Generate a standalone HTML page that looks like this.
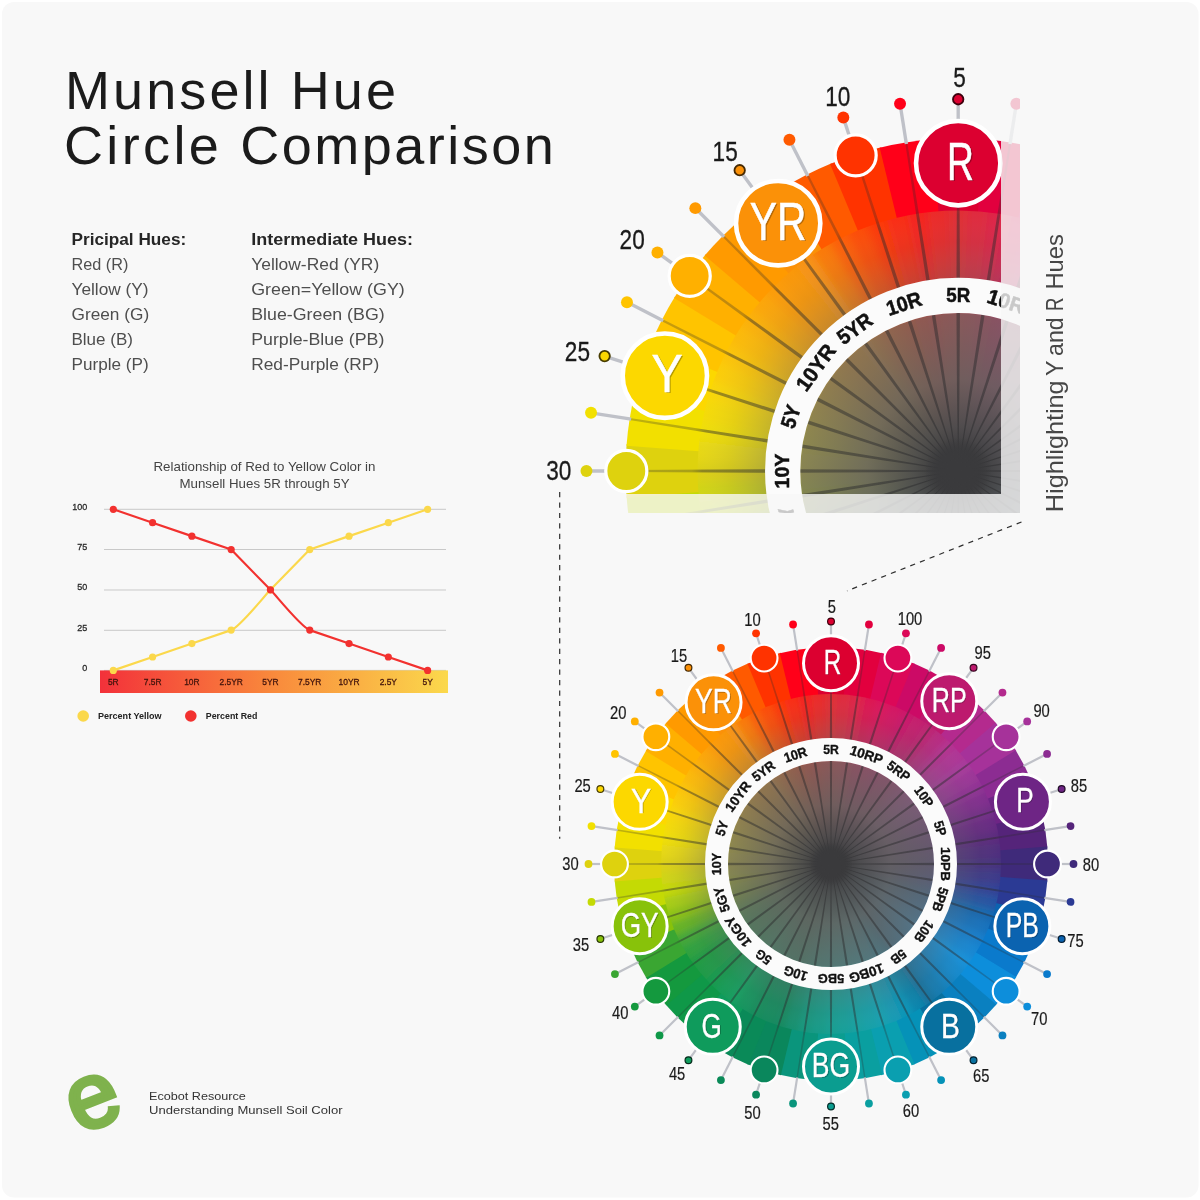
<!DOCTYPE html>
<html lang="en"><head><meta charset="utf-8"><title>Munsell Hue Circle Comparison</title>
<style>
html,body{margin:0;padding:0;background:#fff;}
body{width:1200px;height:1200px;overflow:hidden;font-family:"Liberation Sans",sans-serif;}
svg{display:block}
text{font-family:"Liberation Sans",sans-serif;}
.rl{font-size:13.6px;font-weight:bold;fill:#111;text-anchor:middle;stroke:#111;stroke-width:.35px;}
.bl{font-size:35px;fill:#fff;text-anchor:middle;stroke:#fff;stroke-width:.35px;}
.bs{font-size:35px;fill:#000;fill-opacity:.28;text-anchor:middle;}
.nm{font-size:18.2px;fill:#1a1a1a;text-anchor:middle;stroke:#1a1a1a;stroke-width:.2px;}
.yl{font-size:9.8px;fill:#2a2a2a;stroke:#2a2a2a;stroke-width:.3px;text-anchor:end;}
.xl{font-size:9.8px;fill:#43140c;stroke:#43140c;stroke-width:.3px;text-anchor:middle;}
.lg{font-size:9.6px;font-weight:bold;fill:#222;}
.ct{font-size:13px;fill:#444;text-anchor:middle;}
.lh{font-size:17.2px;font-weight:bold;fill:#262626;}
.li{font-size:17.2px;fill:#4e4e4e;}
.tt{font-size:54px;fill:#1b1b1b;}
.ft{font-size:11.6px;fill:#333;}
.vt{font-size:24.5px;fill:#464646;}
</style></head><body>
<svg width="1200" height="1200" viewBox="0 0 1200 1200">
<defs>
<radialGradient id="gv" gradientUnits="userSpaceOnUse" cx="0" cy="0" r="170">
<stop offset="0" stop-color="#3c3c3e" stop-opacity="1"/>
<stop offset="0.08" stop-color="#3c3c3e" stop-opacity="1"/>
<stop offset="0.17" stop-color="#4d4d4e" stop-opacity="0.98"/>
<stop offset="0.35" stop-color="#656361" stop-opacity="0.91"/>
<stop offset="0.6" stop-color="#6b6a69" stop-opacity="0.75"/>
<stop offset="0.62" stop-color="#707070" stop-opacity="0.5"/>
<stop offset="0.74" stop-color="#707070" stop-opacity="0.37"/>
<stop offset="0.88" stop-color="#888480" stop-opacity="0.15"/>
<stop offset="1" stop-color="#c8c0b8" stop-opacity="0.05"/>
</radialGradient>
<radialGradient id="gc" gradientUnits="userSpaceOnUse" cx="0" cy="0" r="22">
<stop offset="0" stop-color="#3a3a3c" stop-opacity="1"/>
<stop offset="0.6" stop-color="#3a3a3c" stop-opacity="0.9"/>
<stop offset="1" stop-color="#3a3a3c" stop-opacity="0"/>
</radialGradient>
<linearGradient id="gn" gradientUnits="userSpaceOnUse" x1="0" y1="0" x2="0" y2="-217">
<stop offset="0" stop-color="#2a2a2c" stop-opacity="0.5"/><stop offset="0.77" stop-color="#2a2a2c" stop-opacity="0.45"/><stop offset="0.8" stop-color="#2a2a2c" stop-opacity="0.3"/><stop offset="1" stop-color="#2a2a2c" stop-opacity="0.26"/>
</linearGradient>
<linearGradient id="gb" x1="0" y1="0" x2="1" y2="0">
<stop offset="0" stop-color="#f3313a"/><stop offset="0.5" stop-color="#f98a3c"/><stop offset="1" stop-color="#fbd94c"/>
</linearGradient>
<clipPath id="cin"><circle r="170"/></clipPath>
<filter id="blr" x="-10%" y="-10%" width="120%" height="120%"><feGaussianBlur stdDeviation="3"/></filter>
<clipPath id="clipA"><rect x="540" y="40" width="461" height="454"/></clipPath>
<clipPath id="clipB"><path d="M1001 40H1020V513H540V494H1001Z"/></clipPath>
<g id="wheel">
<path d="M0 0L-17.59 -216.29A217 217 0 0 1 17.59 -216.29Z" fill="#dc0030"/>
<path d="M0 0L16.46 -216.37A217 217 0 0 1 51.21 -210.87Z" fill="#e2003e"/>
<path d="M0 0L50.11 -211.14A217 217 0 0 1 83.57 -200.26Z" fill="#dc0858"/>
<path d="M0 0L82.52 -200.7A217 217 0 0 1 113.87 -184.73Z" fill="#cc0a66"/>
<path d="M0 0L112.9 -185.32A217 217 0 0 1 141.36 -164.64Z" fill="#bd1a6e"/>
<path d="M0 0L140.5 -165.38A217 217 0 0 1 165.38 -140.5Z" fill="#b42a8e"/>
<path d="M0 0L164.64 -141.36A217 217 0 0 1 185.32 -112.9Z" fill="#a6329a"/>
<path d="M0 0L184.73 -113.87A217 217 0 0 1 200.7 -82.52Z" fill="#8c2c92"/>
<path d="M0 0L200.26 -83.57A217 217 0 0 1 211.14 -50.11Z" fill="#6e2585"/>
<path d="M0 0L210.87 -51.21A217 217 0 0 1 216.37 -16.46Z" fill="#55247a"/>
<path d="M0 0L216.29 -17.59A217 217 0 0 1 216.29 17.59Z" fill="#3f2a7a"/>
<path d="M0 0L216.37 16.46A217 217 0 0 1 210.87 51.21Z" fill="#2b3a94"/>
<path d="M0 0L211.14 50.11A217 217 0 0 1 200.26 83.57Z" fill="#0b63b0"/>
<path d="M0 0L200.7 82.52A217 217 0 0 1 184.73 113.87Z" fill="#0a7acc"/>
<path d="M0 0L185.32 112.9A217 217 0 0 1 164.64 141.36Z" fill="#0d8edb"/>
<path d="M0 0L165.38 140.5A217 217 0 0 1 140.5 165.38Z" fill="#0a80c0"/>
<path d="M0 0L141.36 164.64A217 217 0 0 1 112.9 185.32Z" fill="#08709f"/>
<path d="M0 0L113.87 184.73A217 217 0 0 1 82.52 200.7Z" fill="#0592b8"/>
<path d="M0 0L83.57 200.26A217 217 0 0 1 50.11 211.14Z" fill="#0a9fb0"/>
<path d="M0 0L51.21 210.87A217 217 0 0 1 16.46 216.37Z" fill="#0a9fa0"/>
<path d="M0 0L17.59 216.29A217 217 0 0 1 -17.59 216.29Z" fill="#0b9d90"/>
<path d="M0 0L-16.46 216.37A217 217 0 0 1 -51.21 210.87Z" fill="#0a957c"/>
<path d="M0 0L-50.11 211.14A217 217 0 0 1 -83.57 200.26Z" fill="#0a875c"/>
<path d="M0 0L-82.52 200.7A217 217 0 0 1 -113.87 184.73Z" fill="#0a8a58"/>
<path d="M0 0L-112.9 185.32A217 217 0 0 1 -141.36 164.64Z" fill="#0f9b5c"/>
<path d="M0 0L-140.5 165.38A217 217 0 0 1 -165.38 140.5Z" fill="#0f9848"/>
<path d="M0 0L-164.64 141.36A217 217 0 0 1 -185.32 112.9Z" fill="#14993e"/>
<path d="M0 0L-184.73 113.87A217 217 0 0 1 -200.7 82.52Z" fill="#3aa632"/>
<path d="M0 0L-200.26 83.57A217 217 0 0 1 -211.14 50.11Z" fill="#88c20a"/>
<path d="M0 0L-210.87 51.21A217 217 0 0 1 -216.37 16.46Z" fill="#c4da04"/>
<path d="M0 0L-216.29 17.59A217 217 0 0 1 -216.29 -17.59Z" fill="#ded20e"/>
<path d="M0 0L-216.37 -16.46A217 217 0 0 1 -210.87 -51.21Z" fill="#f2e000"/>
<path d="M0 0L-211.14 -50.11A217 217 0 0 1 -200.26 -83.57Z" fill="#fcd800"/>
<path d="M0 0L-200.7 -82.52A217 217 0 0 1 -184.73 -113.87Z" fill="#ffc400"/>
<path d="M0 0L-185.32 -112.9A217 217 0 0 1 -164.64 -141.36Z" fill="#ffb000"/>
<path d="M0 0L-165.38 -140.5A217 217 0 0 1 -140.5 -165.38Z" fill="#ff9a00"/>
<path d="M0 0L-141.36 -164.64A217 217 0 0 1 -112.9 -185.32Z" fill="#fb9108"/>
<path d="M0 0L-113.87 -184.73A217 217 0 0 1 -82.52 -200.7Z" fill="#ff5a00"/>
<path d="M0 0L-83.57 -200.26A217 217 0 0 1 -50.11 -211.14Z" fill="#ff3300"/>
<path d="M0 0L-51.21 -210.87A217 217 0 0 1 -16.46 -216.37Z" fill="#ff0019"/>
<g clip-path="url(#cin)"><g filter="url(#blr)">
<path d="M0 0L-7.46 -181.85A170 170 0 0 1 7.46 -181.85Z" fill="#e2262f"/>
<path d="M0 0L6.83 -181.87A170 170 0 0 1 21.71 -180.7Z" fill="#e12038"/>
<path d="M0 0L21.08 -180.78A170 170 0 0 1 35.82 -178.44Z" fill="#e01a42"/>
<path d="M0 0L35.19 -178.56A170 170 0 0 1 49.71 -175.08Z" fill="#de114d"/>
<path d="M0 0L49.1 -175.25A170 170 0 0 1 63.29 -170.64Z" fill="#dc0858"/>
<path d="M0 0L62.7 -170.86A170 170 0 0 1 76.48 -165.15Z" fill="#d4095f"/>
<path d="M0 0L75.91 -165.41A170 170 0 0 1 89.21 -158.64Z" fill="#cc0a66"/>
<path d="M0 0L88.65 -158.95A170 170 0 0 1 101.38 -151.15Z" fill="#c4126a"/>
<path d="M0 0L100.85 -151.5A170 170 0 0 1 112.92 -142.73Z" fill="#bd1a6e"/>
<path d="M0 0L112.43 -143.12A170 170 0 0 1 123.77 -133.43Z" fill="#b8227e"/>
<path d="M0 0L123.31 -133.86A170 170 0 0 1 133.86 -123.31Z" fill="#b42a8e"/>
<path d="M0 0L133.43 -123.77A170 170 0 0 1 143.12 -112.43Z" fill="#ad2e94"/>
<path d="M0 0L142.73 -112.92A170 170 0 0 1 151.5 -100.85Z" fill="#a6329a"/>
<path d="M0 0L151.15 -101.38A170 170 0 0 1 158.95 -88.65Z" fill="#992f96"/>
<path d="M0 0L158.64 -89.21A170 170 0 0 1 165.41 -75.91Z" fill="#8c2c92"/>
<path d="M0 0L165.15 -76.48A170 170 0 0 1 170.86 -62.7Z" fill="#7d288c"/>
<path d="M0 0L170.64 -63.29A170 170 0 0 1 175.25 -49.1Z" fill="#6e2585"/>
<path d="M0 0L175.08 -49.71A170 170 0 0 1 178.56 -35.19Z" fill="#622480"/>
<path d="M0 0L178.44 -35.82A170 170 0 0 1 180.78 -21.08Z" fill="#55247a"/>
<path d="M0 0L180.7 -21.71A170 170 0 0 1 181.87 -6.83Z" fill="#4a277a"/>
<path d="M0 0L181.85 -7.46A170 170 0 0 1 181.85 7.46Z" fill="#3f2a7a"/>
<path d="M0 0L181.87 6.83A170 170 0 0 1 180.7 21.71Z" fill="#353287"/>
<path d="M0 0L180.78 21.08A170 170 0 0 1 178.44 35.82Z" fill="#2b3a94"/>
<path d="M0 0L178.56 35.19A170 170 0 0 1 175.08 49.71Z" fill="#1b4ea2"/>
<path d="M0 0L175.25 49.1A170 170 0 0 1 170.64 63.29Z" fill="#0b63b0"/>
<path d="M0 0L170.86 62.7A170 170 0 0 1 165.15 76.48Z" fill="#0a6ebe"/>
<path d="M0 0L165.41 75.91A170 170 0 0 1 158.64 89.21Z" fill="#0a7acc"/>
<path d="M0 0L158.95 88.65A170 170 0 0 1 151.15 101.38Z" fill="#0c84d4"/>
<path d="M0 0L151.5 100.85A170 170 0 0 1 142.73 112.92Z" fill="#0d8edb"/>
<path d="M0 0L143.12 112.43A170 170 0 0 1 133.43 123.77Z" fill="#0c87ce"/>
<path d="M0 0L133.86 123.31A170 170 0 0 1 123.31 133.86Z" fill="#0a80c0"/>
<path d="M0 0L123.77 133.43A170 170 0 0 1 112.43 143.12Z" fill="#0978b0"/>
<path d="M0 0L112.92 142.73A170 170 0 0 1 100.85 151.5Z" fill="#08709f"/>
<path d="M0 0L101.38 151.15A170 170 0 0 1 88.65 158.95Z" fill="#0681ac"/>
<path d="M0 0L89.21 158.64A170 170 0 0 1 75.91 165.41Z" fill="#0592b8"/>
<path d="M0 0L76.48 165.15A170 170 0 0 1 62.7 170.86Z" fill="#0898b4"/>
<path d="M0 0L63.29 170.64A170 170 0 0 1 49.1 175.25Z" fill="#0a9fb0"/>
<path d="M0 0L49.71 175.08A170 170 0 0 1 35.19 178.56Z" fill="#0a9fa8"/>
<path d="M0 0L35.82 178.44A170 170 0 0 1 21.08 180.78Z" fill="#0a9fa0"/>
<path d="M0 0L21.71 180.7A170 170 0 0 1 6.83 181.87Z" fill="#0a9e98"/>
<path d="M0 0L7.46 181.85A170 170 0 0 1 -7.46 181.85Z" fill="#0b9d90"/>
<path d="M0 0L-6.83 181.87A170 170 0 0 1 -21.71 180.7Z" fill="#0a9986"/>
<path d="M0 0L-21.08 180.78A170 170 0 0 1 -35.82 178.44Z" fill="#0a957c"/>
<path d="M0 0L-35.19 178.56A170 170 0 0 1 -49.71 175.08Z" fill="#0a8e6c"/>
<path d="M0 0L-49.1 175.25A170 170 0 0 1 -63.29 170.64Z" fill="#0a875c"/>
<path d="M0 0L-62.7 170.86A170 170 0 0 1 -76.48 165.15Z" fill="#0a885a"/>
<path d="M0 0L-75.91 165.41A170 170 0 0 1 -89.21 158.64Z" fill="#0a8a58"/>
<path d="M0 0L-88.65 158.95A170 170 0 0 1 -101.38 151.15Z" fill="#0c925a"/>
<path d="M0 0L-100.85 151.5A170 170 0 0 1 -112.92 142.73Z" fill="#0f9b5c"/>
<path d="M0 0L-112.43 143.12A170 170 0 0 1 -123.77 133.43Z" fill="#0f9a52"/>
<path d="M0 0L-123.31 133.86A170 170 0 0 1 -133.86 123.31Z" fill="#0f9848"/>
<path d="M0 0L-133.43 123.77A170 170 0 0 1 -143.12 112.43Z" fill="#129843"/>
<path d="M0 0L-142.73 112.92A170 170 0 0 1 -151.5 100.85Z" fill="#14993e"/>
<path d="M0 0L-151.15 101.38A170 170 0 0 1 -158.95 88.65Z" fill="#27a038"/>
<path d="M0 0L-158.64 89.21A170 170 0 0 1 -165.41 75.91Z" fill="#3aa632"/>
<path d="M0 0L-165.15 76.48A170 170 0 0 1 -170.86 62.7Z" fill="#61b41e"/>
<path d="M0 0L-170.64 63.29A170 170 0 0 1 -175.25 49.1Z" fill="#88c20a"/>
<path d="M0 0L-175.08 49.71A170 170 0 0 1 -178.56 35.19Z" fill="#a6ce07"/>
<path d="M0 0L-178.44 35.82A170 170 0 0 1 -180.78 21.08Z" fill="#c4da04"/>
<path d="M0 0L-180.7 21.71A170 170 0 0 1 -181.87 6.83Z" fill="#d1d609"/>
<path d="M0 0L-181.85 7.46A170 170 0 0 1 -181.85 -7.46Z" fill="#ded20e"/>
<path d="M0 0L-181.87 -6.83A170 170 0 0 1 -180.7 -21.71Z" fill="#e8d907"/>
<path d="M0 0L-180.78 -21.08A170 170 0 0 1 -178.44 -35.82Z" fill="#f2e000"/>
<path d="M0 0L-178.56 -35.19A170 170 0 0 1 -175.08 -49.71Z" fill="#f7dc00"/>
<path d="M0 0L-175.25 -49.1A170 170 0 0 1 -170.64 -63.29Z" fill="#fcd800"/>
<path d="M0 0L-170.86 -62.7A170 170 0 0 1 -165.15 -76.48Z" fill="#fece00"/>
<path d="M0 0L-165.41 -75.91A170 170 0 0 1 -158.64 -89.21Z" fill="#ffc400"/>
<path d="M0 0L-158.95 -88.65A170 170 0 0 1 -151.15 -101.38Z" fill="#ffba00"/>
<path d="M0 0L-151.5 -100.85A170 170 0 0 1 -142.73 -112.92Z" fill="#ffb000"/>
<path d="M0 0L-143.12 -112.43A170 170 0 0 1 -133.43 -123.77Z" fill="#ffa500"/>
<path d="M0 0L-133.86 -123.31A170 170 0 0 1 -123.31 -133.86Z" fill="#ff9a00"/>
<path d="M0 0L-123.77 -133.43A170 170 0 0 1 -112.43 -143.12Z" fill="#fd9604"/>
<path d="M0 0L-112.92 -142.73A170 170 0 0 1 -100.85 -151.5Z" fill="#fb9108"/>
<path d="M0 0L-101.38 -151.15A170 170 0 0 1 -88.65 -158.95Z" fill="#fd7604"/>
<path d="M0 0L-89.21 -158.64A170 170 0 0 1 -75.91 -165.41Z" fill="#ff5a00"/>
<path d="M0 0L-76.48 -165.15A170 170 0 0 1 -62.7 -170.86Z" fill="#ff4600"/>
<path d="M0 0L-63.29 -170.64A170 170 0 0 1 -49.1 -175.25Z" fill="#ff3300"/>
<path d="M0 0L-49.71 -175.08A170 170 0 0 1 -35.19 -178.56Z" fill="#fc280c"/>
<path d="M0 0L-35.82 -178.44A170 170 0 0 1 -21.08 -180.78Z" fill="#f81c18"/>
<path d="M0 0L-21.71 -180.7A170 170 0 0 1 -6.83 -181.87Z" fill="#ed2124"/>
</g></g>
<circle r="170" fill="url(#gv)"/>
<polygon transform="rotate(0)" points="0,0 -0.8,-50 -1.15,-105 -1.1,-130 -0.7,-217 0.7,-217 1.1,-130 1.15,-105 0.8,-50" fill="url(#gn)"/>
<polygon transform="rotate(9)" points="0,0 -0.8,-50 -1.15,-105 -1.1,-130 -0.7,-217 0.7,-217 1.1,-130 1.15,-105 0.8,-50" fill="url(#gn)"/>
<polygon transform="rotate(18)" points="0,0 -0.8,-50 -1.15,-105 -1.1,-130 -0.7,-217 0.7,-217 1.1,-130 1.15,-105 0.8,-50" fill="url(#gn)"/>
<polygon transform="rotate(27)" points="0,0 -0.8,-50 -1.15,-105 -1.1,-130 -0.7,-217 0.7,-217 1.1,-130 1.15,-105 0.8,-50" fill="url(#gn)"/>
<polygon transform="rotate(36)" points="0,0 -0.8,-50 -1.15,-105 -1.1,-130 -0.7,-217 0.7,-217 1.1,-130 1.15,-105 0.8,-50" fill="url(#gn)"/>
<polygon transform="rotate(45)" points="0,0 -0.8,-50 -1.15,-105 -1.1,-130 -0.7,-217 0.7,-217 1.1,-130 1.15,-105 0.8,-50" fill="url(#gn)"/>
<polygon transform="rotate(54)" points="0,0 -0.8,-50 -1.15,-105 -1.1,-130 -0.7,-217 0.7,-217 1.1,-130 1.15,-105 0.8,-50" fill="url(#gn)"/>
<polygon transform="rotate(63)" points="0,0 -0.8,-50 -1.15,-105 -1.1,-130 -0.7,-217 0.7,-217 1.1,-130 1.15,-105 0.8,-50" fill="url(#gn)"/>
<polygon transform="rotate(72)" points="0,0 -0.8,-50 -1.15,-105 -1.1,-130 -0.7,-217 0.7,-217 1.1,-130 1.15,-105 0.8,-50" fill="url(#gn)"/>
<polygon transform="rotate(81)" points="0,0 -0.8,-50 -1.15,-105 -1.1,-130 -0.7,-217 0.7,-217 1.1,-130 1.15,-105 0.8,-50" fill="url(#gn)"/>
<polygon transform="rotate(90)" points="0,0 -0.8,-50 -1.15,-105 -1.1,-130 -0.7,-217 0.7,-217 1.1,-130 1.15,-105 0.8,-50" fill="url(#gn)"/>
<polygon transform="rotate(99)" points="0,0 -0.8,-50 -1.15,-105 -1.1,-130 -0.7,-217 0.7,-217 1.1,-130 1.15,-105 0.8,-50" fill="url(#gn)"/>
<polygon transform="rotate(108)" points="0,0 -0.8,-50 -1.15,-105 -1.1,-130 -0.7,-217 0.7,-217 1.1,-130 1.15,-105 0.8,-50" fill="url(#gn)"/>
<polygon transform="rotate(117)" points="0,0 -0.8,-50 -1.15,-105 -1.1,-130 -0.7,-217 0.7,-217 1.1,-130 1.15,-105 0.8,-50" fill="url(#gn)"/>
<polygon transform="rotate(126)" points="0,0 -0.8,-50 -1.15,-105 -1.1,-130 -0.7,-217 0.7,-217 1.1,-130 1.15,-105 0.8,-50" fill="url(#gn)"/>
<polygon transform="rotate(135)" points="0,0 -0.8,-50 -1.15,-105 -1.1,-130 -0.7,-217 0.7,-217 1.1,-130 1.15,-105 0.8,-50" fill="url(#gn)"/>
<polygon transform="rotate(144)" points="0,0 -0.8,-50 -1.15,-105 -1.1,-130 -0.7,-217 0.7,-217 1.1,-130 1.15,-105 0.8,-50" fill="url(#gn)"/>
<polygon transform="rotate(153)" points="0,0 -0.8,-50 -1.15,-105 -1.1,-130 -0.7,-217 0.7,-217 1.1,-130 1.15,-105 0.8,-50" fill="url(#gn)"/>
<polygon transform="rotate(162)" points="0,0 -0.8,-50 -1.15,-105 -1.1,-130 -0.7,-217 0.7,-217 1.1,-130 1.15,-105 0.8,-50" fill="url(#gn)"/>
<polygon transform="rotate(171)" points="0,0 -0.8,-50 -1.15,-105 -1.1,-130 -0.7,-217 0.7,-217 1.1,-130 1.15,-105 0.8,-50" fill="url(#gn)"/>
<polygon transform="rotate(180)" points="0,0 -0.8,-50 -1.15,-105 -1.1,-130 -0.7,-217 0.7,-217 1.1,-130 1.15,-105 0.8,-50" fill="url(#gn)"/>
<polygon transform="rotate(189)" points="0,0 -0.8,-50 -1.15,-105 -1.1,-130 -0.7,-217 0.7,-217 1.1,-130 1.15,-105 0.8,-50" fill="url(#gn)"/>
<polygon transform="rotate(198)" points="0,0 -0.8,-50 -1.15,-105 -1.1,-130 -0.7,-217 0.7,-217 1.1,-130 1.15,-105 0.8,-50" fill="url(#gn)"/>
<polygon transform="rotate(207)" points="0,0 -0.8,-50 -1.15,-105 -1.1,-130 -0.7,-217 0.7,-217 1.1,-130 1.15,-105 0.8,-50" fill="url(#gn)"/>
<polygon transform="rotate(216)" points="0,0 -0.8,-50 -1.15,-105 -1.1,-130 -0.7,-217 0.7,-217 1.1,-130 1.15,-105 0.8,-50" fill="url(#gn)"/>
<polygon transform="rotate(225)" points="0,0 -0.8,-50 -1.15,-105 -1.1,-130 -0.7,-217 0.7,-217 1.1,-130 1.15,-105 0.8,-50" fill="url(#gn)"/>
<polygon transform="rotate(234)" points="0,0 -0.8,-50 -1.15,-105 -1.1,-130 -0.7,-217 0.7,-217 1.1,-130 1.15,-105 0.8,-50" fill="url(#gn)"/>
<polygon transform="rotate(243)" points="0,0 -0.8,-50 -1.15,-105 -1.1,-130 -0.7,-217 0.7,-217 1.1,-130 1.15,-105 0.8,-50" fill="url(#gn)"/>
<polygon transform="rotate(252)" points="0,0 -0.8,-50 -1.15,-105 -1.1,-130 -0.7,-217 0.7,-217 1.1,-130 1.15,-105 0.8,-50" fill="url(#gn)"/>
<polygon transform="rotate(261)" points="0,0 -0.8,-50 -1.15,-105 -1.1,-130 -0.7,-217 0.7,-217 1.1,-130 1.15,-105 0.8,-50" fill="url(#gn)"/>
<polygon transform="rotate(270)" points="0,0 -0.8,-50 -1.15,-105 -1.1,-130 -0.7,-217 0.7,-217 1.1,-130 1.15,-105 0.8,-50" fill="url(#gn)"/>
<polygon transform="rotate(279)" points="0,0 -0.8,-50 -1.15,-105 -1.1,-130 -0.7,-217 0.7,-217 1.1,-130 1.15,-105 0.8,-50" fill="url(#gn)"/>
<polygon transform="rotate(288)" points="0,0 -0.8,-50 -1.15,-105 -1.1,-130 -0.7,-217 0.7,-217 1.1,-130 1.15,-105 0.8,-50" fill="url(#gn)"/>
<polygon transform="rotate(297)" points="0,0 -0.8,-50 -1.15,-105 -1.1,-130 -0.7,-217 0.7,-217 1.1,-130 1.15,-105 0.8,-50" fill="url(#gn)"/>
<polygon transform="rotate(306)" points="0,0 -0.8,-50 -1.15,-105 -1.1,-130 -0.7,-217 0.7,-217 1.1,-130 1.15,-105 0.8,-50" fill="url(#gn)"/>
<polygon transform="rotate(315)" points="0,0 -0.8,-50 -1.15,-105 -1.1,-130 -0.7,-217 0.7,-217 1.1,-130 1.15,-105 0.8,-50" fill="url(#gn)"/>
<polygon transform="rotate(324)" points="0,0 -0.8,-50 -1.15,-105 -1.1,-130 -0.7,-217 0.7,-217 1.1,-130 1.15,-105 0.8,-50" fill="url(#gn)"/>
<polygon transform="rotate(333)" points="0,0 -0.8,-50 -1.15,-105 -1.1,-130 -0.7,-217 0.7,-217 1.1,-130 1.15,-105 0.8,-50" fill="url(#gn)"/>
<polygon transform="rotate(342)" points="0,0 -0.8,-50 -1.15,-105 -1.1,-130 -0.7,-217 0.7,-217 1.1,-130 1.15,-105 0.8,-50" fill="url(#gn)"/>
<polygon transform="rotate(351)" points="0,0 -0.8,-50 -1.15,-105 -1.1,-130 -0.7,-217 0.7,-217 1.1,-130 1.15,-105 0.8,-50" fill="url(#gn)"/>
<circle r="22" fill="url(#gc)"/>
<circle r="114.5" fill="none" stroke="#fbfbfb" stroke-width="23"/>
<text transform="rotate(0) translate(0,-110.2) scale(0.9,1)" class="rl">5R</text>
<text transform="rotate(18) translate(0,-110.2) scale(1.0,1)" class="rl">10RP</text>
<text transform="rotate(36) translate(0,-110.2) scale(0.94,1)" class="rl">5RP</text>
<text transform="rotate(54) translate(0,-110.2) scale(0.94,1)" class="rl">10P</text>
<text transform="rotate(72) translate(0,-110.2) scale(0.9,1)" class="rl">5P</text>
<text transform="rotate(90) translate(0,-110.2) scale(1.0,1)" class="rl">10PB</text>
<text transform="rotate(108) translate(0,-110.2) scale(0.94,1)" class="rl">5PB</text>
<text transform="rotate(126) translate(0,-110.2) scale(0.94,1)" class="rl">10B</text>
<text transform="rotate(144) translate(0,-110.2) scale(0.9,1)" class="rl">5B</text>
<text transform="rotate(162) translate(0,-110.2) scale(1.0,1)" class="rl">10BG</text>
<text transform="rotate(180) translate(0,-110.2) scale(0.94,1)" class="rl">5BG</text>
<text transform="rotate(198) translate(0,-110.2) scale(0.94,1)" class="rl">10G</text>
<text transform="rotate(216) translate(0,-110.2) scale(0.9,1)" class="rl">5G</text>
<text transform="rotate(234) translate(0,-110.2) scale(1.0,1)" class="rl">10GY</text>
<text transform="rotate(252) translate(0,-110.2) scale(0.94,1)" class="rl">5GY</text>
<text transform="rotate(270) translate(0,-110.2) scale(0.94,1)" class="rl">10Y</text>
<text transform="rotate(288) translate(0,-110.2) scale(0.9,1)" class="rl">5Y</text>
<text transform="rotate(306) translate(0,-110.2) scale(1.0,1)" class="rl">10YR</text>
<text transform="rotate(324) translate(0,-110.2) scale(0.94,1)" class="rl">5YR</text>
<text transform="rotate(342) translate(0,-110.2) scale(0.94,1)" class="rl">10R</text>
<line transform="rotate(0)" x1="0" y1="-216" x2="0" y2="-240.5" stroke="#bfc1c8" stroke-width="2.2"/>
<line transform="rotate(9)" x1="0" y1="-216" x2="0" y2="-240.5" stroke="#bfc1c8" stroke-width="2.2"/>
<line transform="rotate(18)" x1="0" y1="-216" x2="0" y2="-240.5" stroke="#bfc1c8" stroke-width="2.2"/>
<line transform="rotate(27)" x1="0" y1="-216" x2="0" y2="-240.5" stroke="#bfc1c8" stroke-width="2.2"/>
<line transform="rotate(36)" x1="0" y1="-216" x2="0" y2="-240.5" stroke="#bfc1c8" stroke-width="2.2"/>
<line transform="rotate(45)" x1="0" y1="-216" x2="0" y2="-240.5" stroke="#bfc1c8" stroke-width="2.2"/>
<line transform="rotate(54)" x1="0" y1="-216" x2="0" y2="-240.5" stroke="#bfc1c8" stroke-width="2.2"/>
<line transform="rotate(63)" x1="0" y1="-216" x2="0" y2="-240.5" stroke="#bfc1c8" stroke-width="2.2"/>
<line transform="rotate(72)" x1="0" y1="-216" x2="0" y2="-240.5" stroke="#bfc1c8" stroke-width="2.2"/>
<line transform="rotate(81)" x1="0" y1="-216" x2="0" y2="-240.5" stroke="#bfc1c8" stroke-width="2.2"/>
<line transform="rotate(90)" x1="0" y1="-216" x2="0" y2="-240.5" stroke="#bfc1c8" stroke-width="2.2"/>
<line transform="rotate(99)" x1="0" y1="-216" x2="0" y2="-240.5" stroke="#bfc1c8" stroke-width="2.2"/>
<line transform="rotate(108)" x1="0" y1="-216" x2="0" y2="-240.5" stroke="#bfc1c8" stroke-width="2.2"/>
<line transform="rotate(117)" x1="0" y1="-216" x2="0" y2="-240.5" stroke="#bfc1c8" stroke-width="2.2"/>
<line transform="rotate(126)" x1="0" y1="-216" x2="0" y2="-240.5" stroke="#bfc1c8" stroke-width="2.2"/>
<line transform="rotate(135)" x1="0" y1="-216" x2="0" y2="-240.5" stroke="#bfc1c8" stroke-width="2.2"/>
<line transform="rotate(144)" x1="0" y1="-216" x2="0" y2="-240.5" stroke="#bfc1c8" stroke-width="2.2"/>
<line transform="rotate(153)" x1="0" y1="-216" x2="0" y2="-240.5" stroke="#bfc1c8" stroke-width="2.2"/>
<line transform="rotate(162)" x1="0" y1="-216" x2="0" y2="-240.5" stroke="#bfc1c8" stroke-width="2.2"/>
<line transform="rotate(171)" x1="0" y1="-216" x2="0" y2="-240.5" stroke="#bfc1c8" stroke-width="2.2"/>
<line transform="rotate(180)" x1="0" y1="-216" x2="0" y2="-240.5" stroke="#bfc1c8" stroke-width="2.2"/>
<line transform="rotate(189)" x1="0" y1="-216" x2="0" y2="-240.5" stroke="#bfc1c8" stroke-width="2.2"/>
<line transform="rotate(198)" x1="0" y1="-216" x2="0" y2="-240.5" stroke="#bfc1c8" stroke-width="2.2"/>
<line transform="rotate(207)" x1="0" y1="-216" x2="0" y2="-240.5" stroke="#bfc1c8" stroke-width="2.2"/>
<line transform="rotate(216)" x1="0" y1="-216" x2="0" y2="-240.5" stroke="#bfc1c8" stroke-width="2.2"/>
<line transform="rotate(225)" x1="0" y1="-216" x2="0" y2="-240.5" stroke="#bfc1c8" stroke-width="2.2"/>
<line transform="rotate(234)" x1="0" y1="-216" x2="0" y2="-240.5" stroke="#bfc1c8" stroke-width="2.2"/>
<line transform="rotate(243)" x1="0" y1="-216" x2="0" y2="-240.5" stroke="#bfc1c8" stroke-width="2.2"/>
<line transform="rotate(252)" x1="0" y1="-216" x2="0" y2="-240.5" stroke="#bfc1c8" stroke-width="2.2"/>
<line transform="rotate(261)" x1="0" y1="-216" x2="0" y2="-240.5" stroke="#bfc1c8" stroke-width="2.2"/>
<line transform="rotate(270)" x1="0" y1="-216" x2="0" y2="-240.5" stroke="#bfc1c8" stroke-width="2.2"/>
<line transform="rotate(279)" x1="0" y1="-216" x2="0" y2="-240.5" stroke="#bfc1c8" stroke-width="2.2"/>
<line transform="rotate(288)" x1="0" y1="-216" x2="0" y2="-240.5" stroke="#bfc1c8" stroke-width="2.2"/>
<line transform="rotate(297)" x1="0" y1="-216" x2="0" y2="-240.5" stroke="#bfc1c8" stroke-width="2.2"/>
<line transform="rotate(306)" x1="0" y1="-216" x2="0" y2="-240.5" stroke="#bfc1c8" stroke-width="2.2"/>
<line transform="rotate(315)" x1="0" y1="-216" x2="0" y2="-240.5" stroke="#bfc1c8" stroke-width="2.2"/>
<line transform="rotate(324)" x1="0" y1="-216" x2="0" y2="-240.5" stroke="#bfc1c8" stroke-width="2.2"/>
<line transform="rotate(333)" x1="0" y1="-216" x2="0" y2="-240.5" stroke="#bfc1c8" stroke-width="2.2"/>
<line transform="rotate(342)" x1="0" y1="-216" x2="0" y2="-240.5" stroke="#bfc1c8" stroke-width="2.2"/>
<line transform="rotate(351)" x1="0" y1="-216" x2="0" y2="-240.5" stroke="#bfc1c8" stroke-width="2.2"/>
<circle cx="0" cy="-242.5" r="3.4" fill="#dc0030" stroke="#3e000d" stroke-width="1.2"/>
<circle cx="37.94" cy="-239.51" r="3.9" fill="#e2003e"/>
<circle cx="74.94" cy="-230.63" r="3.9" fill="#dc0858"/>
<circle cx="110.09" cy="-216.07" r="3.9" fill="#cc0a66"/>
<circle cx="142.54" cy="-196.19" r="3.4" fill="#bd1a6e" stroke="#35071f" stroke-width="1.2"/>
<circle cx="171.47" cy="-171.47" r="3.9" fill="#b42a8e"/>
<circle cx="196.19" cy="-142.54" r="3.9" fill="#a6329a"/>
<circle cx="216.07" cy="-110.09" r="3.9" fill="#8c2c92"/>
<circle cx="230.63" cy="-74.94" r="3.4" fill="#6e2585" stroke="#1f0a25" stroke-width="1.2"/>
<circle cx="239.51" cy="-37.94" r="3.9" fill="#55247a"/>
<circle cx="242.5" cy="-0" r="3.9" fill="#3f2a7a"/>
<circle cx="239.51" cy="37.94" r="3.9" fill="#2b3a94"/>
<circle cx="230.63" cy="74.94" r="3.4" fill="#0b63b0" stroke="#031c31" stroke-width="1.2"/>
<circle cx="216.07" cy="110.09" r="3.9" fill="#0a7acc"/>
<circle cx="196.19" cy="142.54" r="3.9" fill="#0d8edb"/>
<circle cx="171.47" cy="171.47" r="3.9" fill="#0a80c0"/>
<circle cx="142.54" cy="196.19" r="3.4" fill="#08709f" stroke="#021f2d" stroke-width="1.2"/>
<circle cx="110.09" cy="216.07" r="3.9" fill="#0592b8"/>
<circle cx="74.94" cy="230.63" r="3.9" fill="#0a9fb0"/>
<circle cx="37.94" cy="239.51" r="3.9" fill="#0a9fa0"/>
<circle cx="0" cy="242.5" r="3.4" fill="#0b9d90" stroke="#032c28" stroke-width="1.2"/>
<circle cx="-37.94" cy="239.51" r="3.9" fill="#0a957c"/>
<circle cx="-74.94" cy="230.63" r="3.9" fill="#0a875c"/>
<circle cx="-110.09" cy="216.07" r="3.9" fill="#0a8a58"/>
<circle cx="-142.54" cy="196.19" r="3.4" fill="#0f9b5c" stroke="#042b1a" stroke-width="1.2"/>
<circle cx="-171.47" cy="171.47" r="3.9" fill="#0f9848"/>
<circle cx="-196.19" cy="142.54" r="3.9" fill="#14993e"/>
<circle cx="-216.07" cy="110.09" r="3.9" fill="#3aa632"/>
<circle cx="-230.63" cy="74.94" r="3.4" fill="#88c20a" stroke="#263603" stroke-width="1.2"/>
<circle cx="-239.51" cy="37.94" r="3.9" fill="#c4da04"/>
<circle cx="-242.5" cy="0" r="3.9" fill="#ded20e"/>
<circle cx="-239.51" cy="-37.94" r="3.9" fill="#f2e000"/>
<circle cx="-230.63" cy="-74.94" r="3.4" fill="#fcd800" stroke="#473c00" stroke-width="1.2"/>
<circle cx="-216.07" cy="-110.09" r="3.9" fill="#ffc400"/>
<circle cx="-196.19" cy="-142.54" r="3.9" fill="#ffb000"/>
<circle cx="-171.47" cy="-171.47" r="3.9" fill="#ff9a00"/>
<circle cx="-142.54" cy="-196.19" r="3.4" fill="#fb9108" stroke="#462902" stroke-width="1.2"/>
<circle cx="-110.09" cy="-216.07" r="3.9" fill="#ff5a00"/>
<circle cx="-74.94" cy="-230.63" r="3.9" fill="#ff3300"/>
<circle cx="-37.94" cy="-239.51" r="3.9" fill="#ff0019"/>
<circle cx="66.9" cy="-205.9" r="13.4" fill="#dc0858" stroke="#fff" stroke-width="2.1"/>
<circle cx="175.15" cy="-127.26" r="13.4" fill="#a6329a" stroke="#fff" stroke-width="2.1"/>
<circle cx="216.5" cy="-0" r="13.4" fill="#3f2a7a" stroke="#fff" stroke-width="2.1"/>
<circle cx="175.15" cy="127.26" r="13.4" fill="#0d8edb" stroke="#fff" stroke-width="2.1"/>
<circle cx="66.9" cy="205.9" r="13.4" fill="#0a9fb0" stroke="#fff" stroke-width="2.1"/>
<circle cx="-66.9" cy="205.9" r="13.4" fill="#0a875c" stroke="#fff" stroke-width="2.1"/>
<circle cx="-175.15" cy="127.26" r="13.4" fill="#14993e" stroke="#fff" stroke-width="2.1"/>
<circle cx="-216.5" cy="0" r="13.4" fill="#ded20e" stroke="#fff" stroke-width="2.1"/>
<circle cx="-175.15" cy="-127.26" r="13.4" fill="#ffb000" stroke="#fff" stroke-width="2.1"/>
<circle cx="-66.9" cy="-205.9" r="13.4" fill="#ff3300" stroke="#fff" stroke-width="2.1"/>
<circle cx="0" cy="-200.8" r="27.5" fill="#dc0030" stroke="#fff" stroke-width="3"/>
<text transform="translate(2.4,-189.2) scale(0.695,1)" class="bs">R</text>
<text transform="translate(1.5,-190) scale(0.695,1)" class="bl">R</text>
<circle cx="118.26" cy="-162.77" r="27.5" fill="#bd1a6e" stroke="#fff" stroke-width="3"/>
<text transform="translate(119.16,-151.17) scale(0.72,1)" class="bs">RP</text>
<text transform="translate(118.26,-151.97) scale(0.72,1)" class="bl">RP</text>
<circle cx="191.92" cy="-62.36" r="27.5" fill="#6e2585" stroke="#fff" stroke-width="3"/>
<text transform="translate(194.82,-50.76) scale(0.75,1)" class="bs">P</text>
<text transform="translate(193.92,-51.56) scale(0.75,1)" class="bl">P</text>
<circle cx="191.35" cy="62.17" r="27.5" fill="#0b63b0" stroke="#fff" stroke-width="3"/>
<text transform="translate(192.25,73.77) scale(0.71,1)" class="bs">PB</text>
<text transform="translate(191.35,72.97) scale(0.71,1)" class="bl">PB</text>
<circle cx="118.26" cy="162.77" r="27.5" fill="#08709f" stroke="#fff" stroke-width="3"/>
<text transform="translate(120.46,174.37) scale(0.81,1)" class="bs">B</text>
<text transform="translate(119.56,173.57) scale(0.81,1)" class="bl">B</text>
<circle cx="0" cy="202.4" r="27.5" fill="#0b9d90" stroke="#fff" stroke-width="3"/>
<text transform="translate(0.9,214) scale(0.76,1)" class="bs">BG</text>
<text transform="translate(0,213.2) scale(0.76,1)" class="bl">BG</text>
<circle cx="-118.26" cy="162.77" r="27.5" fill="#0f9b5c" stroke="#fff" stroke-width="3"/>
<text transform="translate(-118.36,174.37) scale(0.745,1)" class="bs">G</text>
<text transform="translate(-119.26,173.57) scale(0.745,1)" class="bl">G</text>
<circle cx="-191.35" cy="62.17" r="27.5" fill="#88c20a" stroke="#fff" stroke-width="3"/>
<text transform="translate(-190.45,73.77) scale(0.75,1)" class="bs">GY</text>
<text transform="translate(-191.35,72.97) scale(0.75,1)" class="bl">GY</text>
<circle cx="-191.35" cy="-62.17" r="27.5" fill="#fcd800" stroke="#fff" stroke-width="3"/>
<text transform="translate(-188.95,-50.57) scale(0.87,1)" class="bs">Y</text>
<text transform="translate(-189.85,-51.37) scale(0.87,1)" class="bl">Y</text>
<circle cx="-117.44" cy="-161.64" r="27.5" fill="#fb9108" stroke="#fff" stroke-width="3"/>
<text transform="translate(-116.54,-150.04) scale(0.76,1)" class="bs">YR</text>
<text transform="translate(-117.44,-150.84) scale(0.76,1)" class="bl">YR</text>
<text transform="translate(0.8,-250.7) scale(0.81,1)" class="nm">5</text>
<text transform="translate(79,-238.75) scale(0.81,1)" class="nm">100</text>
<text transform="translate(151.8,-205.5) scale(0.81,1)" class="nm">95</text>
<text transform="translate(210.6,-147) scale(0.81,1)" class="nm">90</text>
<text transform="translate(248,-71.8) scale(0.81,1)" class="nm">85</text>
<text transform="translate(259.9,7.2) scale(0.81,1)" class="nm">80</text>
<text transform="translate(244.5,83.3) scale(0.81,1)" class="nm">75</text>
<text transform="translate(208.3,161) scale(0.81,1)" class="nm">70</text>
<text transform="translate(150.2,217.5) scale(0.81,1)" class="nm">65</text>
<text transform="translate(80,252.5) scale(0.81,1)" class="nm">60</text>
<text transform="translate(-0.3,265.5) scale(0.81,1)" class="nm">55</text>
<text transform="translate(-78.5,255) scale(0.81,1)" class="nm">50</text>
<text transform="translate(-153.9,216) scale(0.81,1)" class="nm">45</text>
<text transform="translate(-210.8,155.3) scale(0.81,1)" class="nm">40</text>
<text transform="translate(-250,86.5) scale(0.81,1)" class="nm">35</text>
<text transform="translate(-260.5,6) scale(0.81,1)" class="nm">30</text>
<text transform="translate(-248.4,-72) scale(0.81,1)" class="nm">25</text>
<text transform="translate(-212.7,-145) scale(0.81,1)" class="nm">20</text>
<text transform="translate(-152,-202.2) scale(0.81,1)" class="nm">15</text>
<text transform="translate(-78.5,-238.3) scale(0.81,1)" class="nm">10</text>
</g>
</defs>
<rect x="2" y="2" width="1196.5" height="1195.5" rx="12" fill="#f8f8f8"/>

<text x="65" y="109" class="tt" textLength="331" lengthAdjust="spacing">Munsell Hue</text>
<text y="163.5" class="tt"><tspan x="64" textLength="154.8" lengthAdjust="spacing">Circle</tspan> <tspan x="240.3" textLength="313.4" lengthAdjust="spacing">Comparison</tspan></text>
<text x="71.5" y="244.8" class="lh" textLength="114.7" lengthAdjust="spacingAndGlyphs">Pricipal Hues:</text>
<text x="71.5" y="269.9" class="li" textLength="56.8" lengthAdjust="spacingAndGlyphs">Red (R)</text>
<text x="71.5" y="295" class="li" textLength="77.1" lengthAdjust="spacingAndGlyphs">Yellow (Y)</text>
<text x="71.5" y="320.1" class="li" textLength="77.7" lengthAdjust="spacingAndGlyphs">Green (G)</text>
<text x="71.5" y="345.2" class="li" textLength="61.4" lengthAdjust="spacingAndGlyphs">Blue (B)</text>
<text x="71.5" y="370.3" class="li" textLength="77.1" lengthAdjust="spacingAndGlyphs">Purple (P)</text>
<text x="251.2" y="244.8" class="lh" textLength="161.9" lengthAdjust="spacingAndGlyphs">Intermediate Hues:</text>
<text x="251.2" y="269.9" class="li" textLength="128" lengthAdjust="spacingAndGlyphs">Yellow-Red (YR)</text>
<text x="251.2" y="295" class="li" textLength="153.6" lengthAdjust="spacingAndGlyphs">Green=Yellow (GY)</text>
<text x="251.2" y="320.1" class="li" textLength="133.5" lengthAdjust="spacingAndGlyphs">Blue-Green (BG)</text>
<text x="251.2" y="345.2" class="li" textLength="133.2" lengthAdjust="spacingAndGlyphs">Purple-Blue (PB)</text>
<text x="251.2" y="370.3" class="li" textLength="128" lengthAdjust="spacingAndGlyphs">Red-Purple (RP)</text>
<text x="264.5" y="471" class="ct" textLength="222" lengthAdjust="spacingAndGlyphs">Relationship of Red to Yellow Color in</text>
<text x="264.5" y="488" class="ct" textLength="170" lengthAdjust="spacingAndGlyphs">Munsell Hues 5R through 5Y</text>
<line x1="104" y1="509.3" x2="446" y2="509.3" stroke="#c9c9c9" stroke-width="1"/>
<text transform="translate(87.2,509.5) scale(0.92,1)" class="yl">100</text>
<line x1="104" y1="549.5" x2="446" y2="549.5" stroke="#c9c9c9" stroke-width="1"/>
<text transform="translate(87.2,549.7) scale(0.92,1)" class="yl">75</text>
<line x1="104" y1="590" x2="446" y2="590" stroke="#c9c9c9" stroke-width="1"/>
<text transform="translate(87.2,590.2) scale(0.92,1)" class="yl">50</text>
<line x1="104" y1="630.3" x2="446" y2="630.3" stroke="#c9c9c9" stroke-width="1"/>
<text transform="translate(87.2,630.5) scale(0.92,1)" class="yl">25</text>
<line x1="104" y1="670.4" x2="446" y2="670.4" stroke="#c9c9c9" stroke-width="1"/>
<text transform="translate(87.2,670.6) scale(0.92,1)" class="yl">0</text>
<rect x="100" y="670.4" width="348" height="22.6" fill="url(#gb)"/>
<path d="M113.3 670.4L152.59 656.98L191.88 643.54L231.17 630.12C239.69 627.22 264.18 596.29 270.46 589.85L309.75 549.58L349.04 536.16L388.33 522.72L427.62 509.3" fill="none" stroke="#fbd84b" stroke-width="2.2" stroke-linejoin="round"/>
<circle cx="113.3" cy="670.4" r="3.6" fill="#fbd84b"/>
<circle cx="152.59" cy="656.98" r="3.6" fill="#fbd84b"/>
<circle cx="191.88" cy="643.54" r="3.6" fill="#fbd84b"/>
<circle cx="231.17" cy="630.12" r="3.6" fill="#fbd84b"/>
<circle cx="270.46" cy="589.85" r="3.6" fill="#fbd84b"/>
<circle cx="309.75" cy="549.58" r="3.6" fill="#fbd84b"/>
<circle cx="349.04" cy="536.16" r="3.6" fill="#fbd84b"/>
<circle cx="388.33" cy="522.72" r="3.6" fill="#fbd84b"/>
<circle cx="427.62" cy="509.3" r="3.6" fill="#fbd84b"/>
<path d="M113.3 509.3L152.59 522.72L191.88 536.16L231.17 549.58L270.46 589.85C276.74 596.29 301.23 627.22 309.75 630.12L349.04 643.54L388.33 656.98L427.62 670.4" fill="none" stroke="#f2312f" stroke-width="2.2" stroke-linejoin="round"/>
<circle cx="113.3" cy="509.3" r="3.6" fill="#f2312f"/>
<circle cx="152.59" cy="522.72" r="3.6" fill="#f2312f"/>
<circle cx="191.88" cy="536.16" r="3.6" fill="#f2312f"/>
<circle cx="231.17" cy="549.58" r="3.6" fill="#f2312f"/>
<circle cx="270.46" cy="589.85" r="3.6" fill="#f2312f"/>
<circle cx="309.75" cy="630.12" r="3.6" fill="#f2312f"/>
<circle cx="349.04" cy="643.54" r="3.6" fill="#f2312f"/>
<circle cx="388.33" cy="656.98" r="3.6" fill="#f2312f"/>
<circle cx="427.62" cy="670.4" r="3.6" fill="#f2312f"/>
<text transform="translate(113.3,685) scale(0.86,1)" class="xl">5R</text>
<text transform="translate(152.59,685) scale(0.86,1)" class="xl">7.5R</text>
<text transform="translate(191.88,685) scale(0.86,1)" class="xl">10R</text>
<text transform="translate(231.17,685) scale(0.86,1)" class="xl">2.5YR</text>
<text transform="translate(270.46,685) scale(0.86,1)" class="xl">5YR</text>
<text transform="translate(309.75,685) scale(0.86,1)" class="xl">7.5YR</text>
<text transform="translate(349.04,685) scale(0.86,1)" class="xl">10YR</text>
<text transform="translate(388.33,685) scale(0.86,1)" class="xl">2.5Y</text>
<text transform="translate(427.62,685) scale(0.86,1)" class="xl">5Y</text>
<circle cx="83.2" cy="716" r="5.8" fill="#fbd84b"/>
<text x="98" y="719.2" class="lg" textLength="63.6" lengthAdjust="spacingAndGlyphs">Percent Yellow</text>
<circle cx="190.8" cy="716" r="5.8" fill="#f2312f"/>
<text x="205.8" y="719.2" class="lg" textLength="51.6" lengthAdjust="spacingAndGlyphs">Percent Red</text>

<text transform="translate(102.5,1125) rotate(-21.5)" font-size="92" fill="#7fb24d" stroke="#7fb24d" stroke-width="4.5" stroke-linejoin="miter" text-anchor="middle">e</text>
<text x="149" y="1099.8" class="ft" textLength="96.9" lengthAdjust="spacingAndGlyphs">Ecobot Resource</text>
<text x="149" y="1114" class="ft" textLength="193.5" lengthAdjust="spacingAndGlyphs">Understanding Munsell Soil Color</text>

<g clip-path="url(#clipA)"><use href="#wheel" transform="translate(958.2,471.0) scale(1.533)"/></g>
<g clip-path="url(#clipB)" opacity="0.2"><use href="#wheel" transform="translate(958.2,471.0) scale(1.533)"/></g>
<text transform="translate(1062.5,511) rotate(-90)" class="vt"><tspan x="-1.2" textLength="131.8" lengthAdjust="spacingAndGlyphs">Highlighting</tspan> <tspan x="135.1" textLength="15.1" lengthAdjust="spacingAndGlyphs">Y</tspan> <tspan x="155" textLength="38.7" lengthAdjust="spacingAndGlyphs">and</tspan> <tspan x="200.1" textLength="13.5" lengthAdjust="spacingAndGlyphs">R</tspan> <tspan x="221.4" textLength="55.4" lengthAdjust="spacingAndGlyphs">Hues</tspan></text>
<line x1="559.7" y1="492" x2="559.7" y2="838.8" stroke="#2e2e2e" stroke-width="1.2" stroke-dasharray="5.2 5.245"/>
<line x1="1021.5" y1="522" x2="847" y2="590.9" stroke="#2e2e2e" stroke-width="1.2" stroke-dasharray="5.2 5.2"/>

<use href="#wheel" transform="translate(831.0,864.0)"/>
</svg>
</body></html>
